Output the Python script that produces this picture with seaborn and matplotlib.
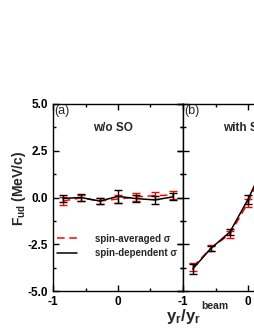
import numpy as np
import pandas as pd
import matplotlib
matplotlib.use("Agg")
import matplotlib.pyplot as plt
import seaborn as sns
from matplotlib.ticker import MultipleLocator

# rapidity points (y_r / y_r^beam)
x_pts = [-0.85, -0.57, -0.28, 0.0, 0.28, 0.57, 0.85]

# panel (a): w/o SO
a_avg = [-0.19, -0.02, -0.19, -0.08, 0.03, 0.10, 0.13]
a_avg_err = [0.20, 0.18, 0.18, 0.22, 0.20, 0.20, 0.20]
a_dep = [-0.05, 0.00, -0.19, 0.06, -0.06, -0.13, 0.04]
a_dep_err = [0.20, 0.18, 0.18, 0.35, 0.20, 0.20, 0.18]

# panel (b): with SO
b_avg = [-3.72, -2.70, -1.97, -0.28, 1.90, 2.80, 3.70]
b_avg_err = [0.22, 0.15, 0.20, 0.22, 0.22, 0.22, 0.22]
b_dep = [-3.82, -2.72, -1.85, -0.10, 2.00, 2.70, 3.80]
b_dep_err = [0.25, 0.12, 0.18, 0.25, 0.22, 0.22, 0.22]

panel_tags = ["(a)", "(b)"]
panel_titles = ["w/o SO", "with SO"]
y_ticks = [-5.0, -2.5, 0.0, 2.5, 5.0]

sns.set_style("ticks")
plt.rcParams["font.family"] = ["Liberation Sans", "DejaVu Sans"]
plt.rcParams["mathtext.fontset"] = "custom"
plt.rcParams["mathtext.rm"] = "Liberation Sans:bold"
plt.rcParams["mathtext.bf"] = "Liberation Sans:bold"
plt.rcParams["mathtext.it"] = "Liberation Sans:bold"
plt.rcParams["mathtext.default"] = "rm"

fig = plt.figure(figsize=(2.55, 3.30), dpi=100)
ax_a = fig.add_axes([53 / 255, 1 - 291 / 330, 130 / 255, 187 / 330])
ax_b = fig.add_axes([183 / 255, 1 - 291 / 330, 130 / 255, 187 / 330])

panels = [
    (ax_a, a_avg, a_avg_err, a_dep, a_dep_err),
    (ax_b, b_avg, b_avg_err, b_dep, b_dep_err),
]

for i, (ax, avg, avg_err, dep, dep_err) in enumerate(panels):
    df = pd.DataFrame({"x": x_pts, "avg": avg, "dep": dep})
    ax.errorbar(x_pts, avg, yerr=avg_err, fmt="none", ecolor="red",
                elinewidth=1.0, capsize=3, capthick=1.0, zorder=2)
    sns.lineplot(data=df, x="x", y="avg", ax=ax, color="red", lw=1.1,
                 linestyle=(0, (5, 3)), label="spin-averaged \u03c3", zorder=3)
    ax.errorbar(x_pts, dep, yerr=dep_err, fmt="none", ecolor="black",
                elinewidth=1.0, capsize=3, capthick=1.0, zorder=4)
    sns.lineplot(data=df, x="x", y="dep", ax=ax, color="black", lw=1.1,
                 label="spin-dependent \u03c3", zorder=5)

    ax.set_xlim(-1, 1)
    ax.set_ylim(-5, 5)
    ax.set_xlabel("")
    ax.set_ylabel("")
    ax.xaxis.set_major_locator(MultipleLocator(1))
    ax.xaxis.set_minor_locator(MultipleLocator(0.5))
    ax.yaxis.set_major_locator(MultipleLocator(2.5))
    ax.yaxis.set_minor_locator(MultipleLocator(1.25))
    ax.tick_params(which="both", direction="in", top=True, right=True,
                   width=1.0, colors="black", labelsize=8.5)
    ax.tick_params(which="major", length=4)
    ax.tick_params(which="minor", length=2.5)
    ax.set_xticks([-1, 0])
    ax.set_xticklabels(["-1", "0"], fontweight="bold")
    for sp in ax.spines.values():
        sp.set_linewidth(1.0)
        sp.set_color("black")
    ax.text(0.01, 0.995, panel_tags[i], transform=ax.transAxes,
            ha="left", va="top", fontsize=9)
    ax.text(0.31, 0.87, panel_titles[i], transform=ax.transAxes,
            ha="left", va="center", fontsize=8.5, fontweight="bold")
    if i == 0:
        ax.set_yticks(y_ticks)
        ax.set_yticklabels(["%.1f" % v for v in y_ticks], fontweight="bold")
        ax.legend(loc="lower left", bbox_to_anchor=(-0.04, 0.13), frameon=False,
                  prop={"size": 7, "weight": "bold"}, handlelength=2.1,
                  handletextpad=1.9, labelspacing=0.45)
    else:
        ax.set_yticklabels([])
        ax.tick_params(axis="y", which="both", left=True, direction="inout")
        ax.tick_params(axis="y", which="major", length=8)
        ax.tick_params(axis="y", which="minor", length=5)
        leg = ax.get_legend()
        if leg is not None:
            leg.remove()

fig.text(19 / 255, 1 - 188 / 330, r"F$_{\mathbf{ud}}$ (MeV/c)", rotation=90,
         ha="center", va="center", fontsize=10, fontweight="bold")
xl = fig.text(166 / 255, 1 - 321 / 330, r"$\mathbf{y_r/y_r}$",
              ha="left", va="baseline", fontsize=12)
fig.canvas.draw()
ax_a.annotate("beam", xy=(1.0, 0.78), xycoords=xl, xytext=(0.5, 0),
              textcoords="offset points", ha="left", va="bottom",
              fontsize=7.5, fontweight="bold", annotation_clip=False)

fig.savefig("out.png", dpi=100)
